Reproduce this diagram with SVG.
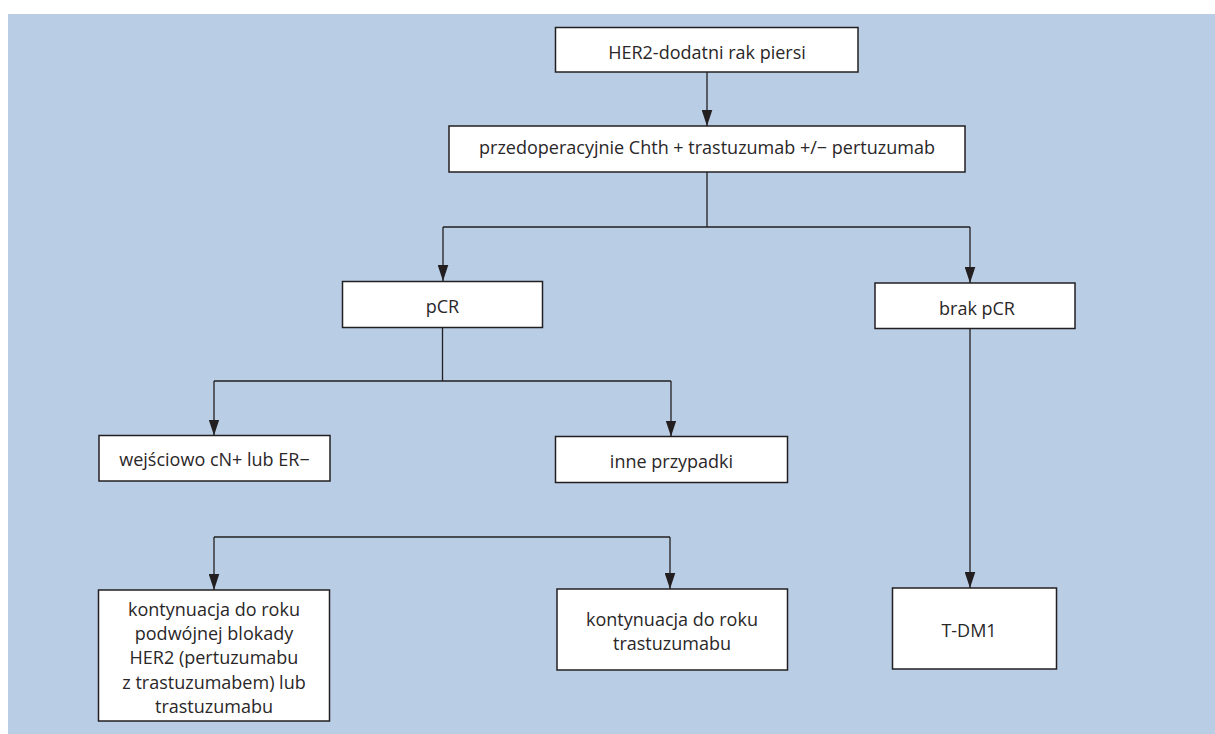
<svg xmlns="http://www.w3.org/2000/svg" width="1215" height="734" viewBox="0 0 1215 734">
<style>
.bg{fill:#b9cde5}
.box{fill:#ffffff;stroke:#231f20;stroke-width:1.5}
.t{font-family:"Open Sans","Liberation Sans",sans-serif;font-size:18px;fill:#2a2728;text-anchor:middle}
.c{fill:none;stroke:#231f20;stroke-width:1.3}
.a{marker-end:url(#ah)}
</style>
<defs>
<marker id="ah" markerUnits="userSpaceOnUse" markerWidth="16" markerHeight="11" viewBox="0 0 16 11" refX="16" refY="5.5" orient="auto">
<path d="M0,0.2 L16,5.5 L0,10.8 Z" fill="#231f20"/>
</marker>
</defs>
<rect class="bg" x="8" y="14" width="1207" height="720"/>
<g id="connectors">
<path class="c a" d="M707,72 V126"/>
<path class="c" d="M707,172 V227 M443,227 H970"/>
<path class="c a" d="M443,227 V281"/>
<path class="c a" d="M970,227 V283"/>
<path class="c" d="M442.5,327 V381 M214,381 H671"/>
<path class="c a" d="M214,381 V435.5"/>
<path class="c a" d="M671,381 V436.5"/>
<path class="c" d="M214,537 H670"/>
<path class="c a" d="M214,537 V590"/>
<path class="c a" d="M670,537 V589"/>
<path class="c a" d="M970,328 V588"/>
</g>
<g id="n1">
<rect class="box" x="555.5" y="27.5" width="302.5" height="44.5"/>
<text class="t" x="707" y="59">HER2-dodatni rak piersi</text>
</g>
<g id="n2">
<rect class="box" x="449" y="126" width="516" height="46"/>
<text class="t" x="707" y="154">przedoperacyjnie Chth + trastuzumab +/− pertuzumab</text>
</g>
<g id="n3">
<rect class="box" x="342.5" y="281.5" width="200" height="46"/>
<text class="t" x="442.5" y="313">pCR</text>
</g>
<g id="n4">
<rect class="box" x="875" y="283" width="200" height="45.5"/>
<text class="t" x="977" y="315">brak pCR</text>
</g>
<g id="n5">
<rect class="box" x="99" y="435.5" width="231" height="45.5"/>
<text class="t" x="214.5" y="466">wejściowo cN+ lub ER−</text>
</g>
<g id="n6">
<rect class="box" x="555.5" y="436.5" width="232" height="46"/>
<text class="t" x="671.5" y="467.5">inne przypadki</text>
</g>
<g id="n7">
<rect class="box" x="98.5" y="590" width="231" height="131"/>
<text class="t" x="214" y="615.5">kontynuacja do roku</text>
<text class="t" x="214" y="640">podwójnej blokady</text>
<text class="t" x="214" y="664">HER2 (pertuzumabu</text>
<text class="t" x="214" y="688.5">z trastuzumabem) lub</text>
<text class="t" x="214" y="712.5">trastuzumabu</text>
</g>
<g id="n8">
<rect class="box" x="557" y="589" width="230.5" height="81"/>
<text class="t" x="672" y="626">kontynuacja do roku</text>
<text class="t" x="672" y="650">trastuzumabu</text>
</g>
<g id="n9">
<rect class="box" x="892.5" y="588" width="164" height="81"/>
<text class="t" x="969" y="637">T-DM1</text>
</g>
</svg>
